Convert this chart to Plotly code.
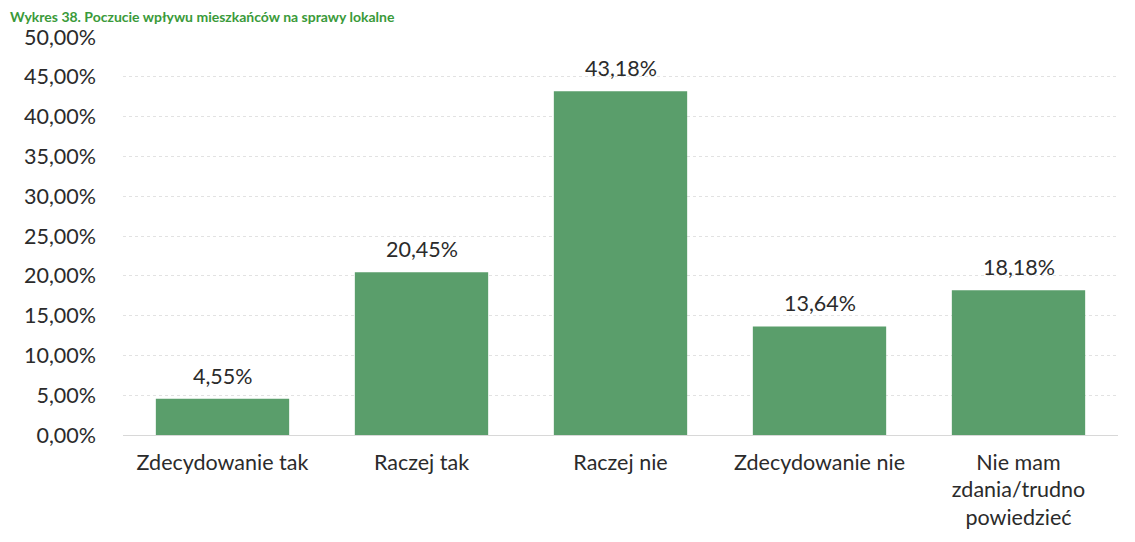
import plotly.graph_objects as go

categories = ["Zdecydowanie tak", "Raczej tak", "Raczej nie", "Zdecydowanie nie",
              "Nie mam<br>zdania/trudno<br>powiedzieć"]
values = [4.55, 20.45, 43.18, 13.64, 18.18]
tick_vals = [0, 5, 10, 15, 20, 25, 30, 35, 40, 45, 50]
tick_text = [f"{v:.2f}%".replace(".", ",") for v in tick_vals]
value_labels = [f"{v:.2f}%".replace(".", ",") for v in values]
title_text = "Wykres 38. Poczucie wpływu mieszkańców na sprawy lokalne"

BAR = "#5a9e6b"
FONT = "Lato, 'Open Sans', sans-serif"
TXT = "#2b2b2b"

fig = go.Figure(go.Bar(
    x=categories, y=values,
    marker=dict(color=BAR, line=dict(width=0)),
    hoverinfo="x+y",
))

annotations = [dict(x=c, y=v, text=t, xref="x", yref="y", showarrow=False,
                    yanchor="bottom", yshift=8,
                    font=dict(family=FONT, size=21.5, color=TXT))
               for c, v, t in zip(categories, values, value_labels)]
annotations.append(dict(text="<b>" + title_text + "</b>", xref="paper", yref="paper",
                        x=-115/995, y=1 + 31/400, xanchor="left", yanchor="top",
                        showarrow=False, font=dict(family=FONT, size=14, color="#3a9a3a")))

fig.update_layout(
    width=1127, height=534,
    margin=dict(l=115, r=17, t=29, b=105),
    paper_bgcolor="white", plot_bgcolor="white",
    bargap=0.33,
    showlegend=False,
    font=dict(family=FONT, size=21.5, color=TXT),
    xaxis=dict(showgrid=False, showline=False, ticks="",
               tickfont=dict(size=21.5, color=TXT), ticklabelstandoff=12),
    yaxis=dict(range=[0, 50], tickvals=tick_vals, ticktext=tick_text,
               showgrid=True, gridcolor="#e2e2e2", gridwidth=1, griddash="dot",
               zeroline=True, zerolinecolor="#d8d8d8", zerolinewidth=1,
               showline=False, ticks="", ticklabelstandoff=26,
               tickfont=dict(size=21.5, color=TXT)),
    annotations=annotations,
)

fig.write_html("out.html")
